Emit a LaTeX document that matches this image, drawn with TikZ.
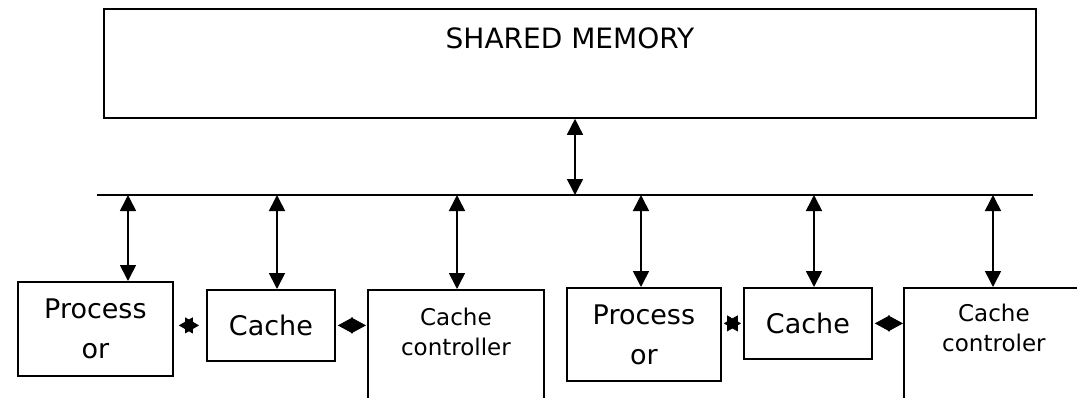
\documentclass[tikz,border=0pt]{standalone}
\usepackage{fontspec}
\setmainfont{DejaVu Sans}
\usetikzlibrary{arrows.meta,positioning}

\tikzset{
    box/.style={draw, line width=1.8pt, align=center, inner sep=0pt, anchor=north west},
    dbl/.style={line width=1.6pt, {Triangle[width=16pt,length=16pt]}-{Triangle[width=16pt,length=16pt]}},
    tie/.style={line width=0.8pt, -{Triangle[width=16pt,length=14pt]}},
    kite/.style={line width=0.8pt, -{Triangle[width=16pt,length=15pt]}},
    big/.style={font=\fontsize{27}{40}\selectfont},
    small/.style={font=\fontsize{23}{30}\selectfont, align=center, inner sep=0pt},
}

\begin{document}
\begin{tikzpicture}[x=1pt, y=-1pt]
    \useasboundingbox (0,0) rectangle (1077,397);
    \clip (0,0) rectangle (1077,397);

    \node[box, minimum width=932pt, minimum height=109pt] (mem) at (103,8) {};
    \node[small, font=\fontsize{28}{30}\selectfont, below=20pt of mem.north] (memtxt) {SHARED MEMORY};

    \coordinate (busL) at (97,195);
    \coordinate (busR) at (1033,195);
    \draw[line width=1.8pt] (busL) -- (busR);

    \node[box, big, minimum width=155pt, minimum height=94pt] (pro1) at (17,281) {Process\\or};
    \node[box, big, minimum width=128pt, minimum height=71pt] (cac1) at (206,289) {Cache};
    \node[box, minimum width=176pt, minimum height=150pt] (ctl1) at (367,289) {};
    \node[small, below=19pt of ctl1.north] (ctl1txt) {Cache\\controller};

    \node[box, big, minimum width=154pt, minimum height=93pt] (pro2) at (566,287) {Process\\or};
    \node[box, big, minimum width=128pt, minimum height=71pt] (cac2) at (743,287) {Cache};
    \node[box, minimum width=180pt, minimum height=150pt] (ctl2) at (903,287) {};
    \node[small, below=17pt of ctl2.north] (ctl2txt) {Cache\\controler};

    \coordinate (tm) at (575,195);
    \coordinate (t1) at (128,195);
    \coordinate (t2) at (277,195);
    \coordinate (t3) at (457,195);
    \coordinate (t4) at (641,195);
    \coordinate (t5) at (814,195);
    \coordinate (t6) at (993,195);

    \draw[dbl] (tm |- mem.south) -- (tm);
    \draw[dbl] (t1) -- (t1 |- pro1.north);
    \draw[dbl] (t2) -- (t2 |- cac1.north);
    \draw[dbl] (t3) -- (t3 |- ctl1.north);
    \draw[dbl] (t4) -- (t4 |- pro2.north);
    \draw[dbl] (t5) -- (t5 |- cac2.north);
    \draw[dbl] (t6) -- (t6 |- ctl2.north);

    \draw[tie, shorten >=5pt] ([xshift=19pt]cac1.west -| pro1.east) -- (cac1.west -| pro1.east);
    \draw[tie, shorten >=7pt] ([xshift=-21pt]cac1.west) -- (cac1.west);
    \draw[kite, shorten >=2pt] ([xshift=17pt]cac1.east) -- (cac1.east);
    \draw[kite, shorten >=1pt] ([xshift=17pt]cac1.east) -- (cac1.east -| ctl1.west);

    \draw[tie, shorten >=2pt] ([xshift=16pt]cac2.west -| pro2.east) -- (cac2.west -| pro2.east);
    \draw[tie, shorten >=2pt] ([xshift=-16pt]cac2.west) -- (cac2.west);
    \draw[kite, shorten >=2pt] ([xshift=17pt]cac2.east) -- (cac2.east);
    \draw[kite] ([xshift=17pt]cac2.east) -- (cac2.east -| ctl2.west);
\end{tikzpicture}
\end{document}
